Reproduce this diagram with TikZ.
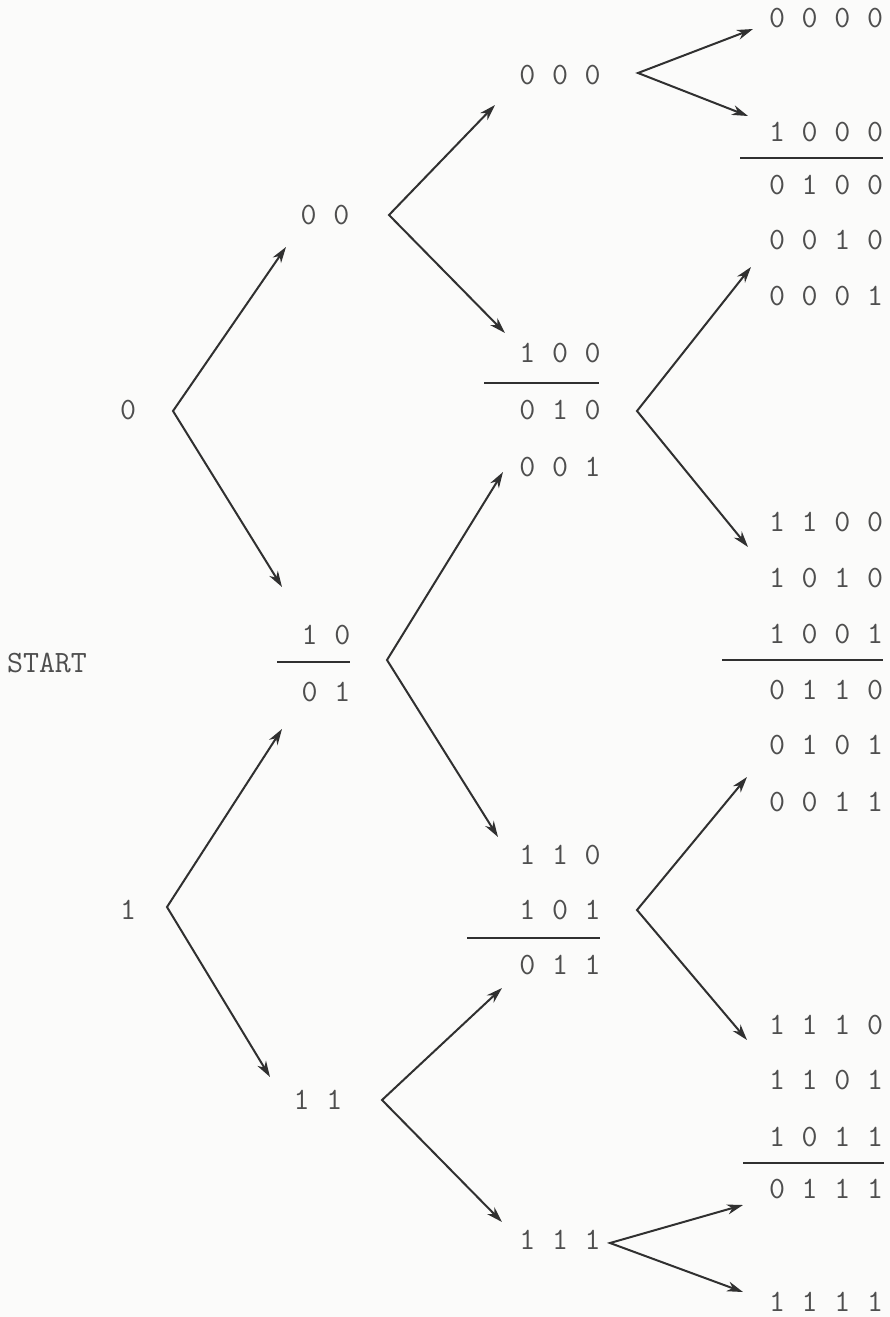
\documentclass[tikz,border=0pt]{standalone}
\usepackage{fontspec}
\usetikzlibrary{arrows.meta}
\definecolor{ink}{RGB}{48,48,48}
\definecolor{txt}{RGB}{78,78,78}
\definecolor{paper}{RGB}{251,251,250}
\newcommand\bitfont{\fontsize{31}{31}\selectfont\ttfamily\spaceskip 16.7pt\relax}
\begin{document}
\begin{tikzpicture}[x=1pt,y=-1pt,
  lbl/.style={inner sep=0pt, text=txt, font=\bitfont},
  fork/.style={draw=ink, line width=2pt, line join=miter,
    {Stealth[length=16pt,width=10pt,inset=5pt]}-{Stealth[length=16pt,width=10pt,inset=5pt]}},
  rulebar/.style={draw=ink, line width=2.2pt}]
\fill[paper] (0,0) rectangle (890,1317);
\useasboundingbox (0,0) rectangle (890,1317);

% column 1
\node[lbl] (n0) at (128,410) {0};
\node[lbl] (start) at (47,663) {START};
\node[lbl] (n1) at (128,910) {1};

% column 2
\node[lbl] (n00) at (325,215) {0 0};
\node[lbl] (n10) at (326,635) {1 0};
\node[lbl] (n01) at (326,692) {0 1};
\node[lbl] (n11) at (318,1100) {1 1};
\draw[rulebar] (277,662) -- (350,662);

% column 3
\node[lbl] (n000) at (560,75) {0 0 0};
\node[lbl] (n100) at (560,353) {1 0 0};
\node[lbl] (n010) at (560,410) {0 1 0};
\node[lbl] (n001) at (560,467) {0 0 1};
\node[lbl] (n110) at (560,855) {1 1 0};
\node[lbl] (n101) at (560,910) {1 0 1};
\node[lbl] (n011) at (560,965) {0 1 1};
\node[lbl] (n111) at (560,1240) {1 1 1};
\draw[rulebar] (484,383) -- (599,383);
\draw[rulebar] (467,938) -- (600,938);

% column 4
\node[lbl] (n0000) at (826,18) {0 0 0 0};
\node[lbl] (n1000) at (826,132) {1 0 0 0};
\node[lbl] (n0100) at (826,185) {0 1 0 0};
\node[lbl] (n0010) at (826,240) {0 0 1 0};
\node[lbl] (n0001) at (826,296) {0 0 0 1};
\node[lbl] (n1100) at (826,522) {1 1 0 0};
\node[lbl] (n1010) at (826,578) {1 0 1 0};
\node[lbl] (n1001) at (826,634) {1 0 0 1};
\node[lbl] (n0110) at (826,690) {0 1 1 0};
\node[lbl] (n0101) at (826,745) {0 1 0 1};
\node[lbl] (n0011) at (826,802) {0 0 1 1};
\node[lbl] (n1110) at (826,1025) {1 1 1 0};
\node[lbl] (n1101) at (826,1080) {1 1 0 1};
\node[lbl] (n1011) at (826,1137) {1 0 1 1};
\node[lbl] (n0111) at (826,1189) {0 1 1 1};
\node[lbl] (n1111) at (826,1302) {1 1 1 1};
\draw[rulebar] (740,158) -- (883,158);
\draw[rulebar] (722,660) -- (883,660);
\draw[rulebar] (743,1163) -- (884,1163);

% fork vertices and tips
\coordinate (v0) at (173,411);   \coordinate (t0a) at (286,247);  \coordinate (t0b) at (282,587);
\coordinate (v1) at (167,907);   \coordinate (t1a) at (282,729);  \coordinate (t1b) at (270,1077);
\coordinate (v00) at (389,215);  \coordinate (t00a) at (495,105); \coordinate (t00b) at (505,333);
\coordinate (v10) at (387,660);  \coordinate (t10a) at (503,472); \coordinate (t10b) at (498,837);
\coordinate (v11) at (382,1100); \coordinate (t11a) at (502,988); \coordinate (t11b) at (502,1222);
\coordinate (v000) at (638,73);  \coordinate (t000a) at (753,29); \coordinate (t000b) at (748,116);
\coordinate (v100) at (637,411); \coordinate (t100a) at (751,267); \coordinate (t100b) at (748,547);
\coordinate (v110) at (637,910); \coordinate (t110a) at (747,777); \coordinate (t110b) at (747,1040);
\coordinate (v111) at (610,1243); \coordinate (t111a) at (743,1205); \coordinate (t111b) at (743,1292);

\draw[fork] (t0a) -- (v0) -- (t0b);
\draw[fork] (t1a) -- (v1) -- (t1b);
\draw[fork] (t00a) -- (v00) -- (t00b);
\draw[fork] (t10a) -- (v10) -- (t10b);
\draw[fork] (t11a) -- (v11) -- (t11b);
\draw[fork] (t000a) -- (v000) -- (t000b);
\draw[fork] (t100a) -- (v100) -- (t100b);
\draw[fork] (t110a) -- (v110) -- (t110b);
\draw[fork] (t111a) -- (v111) -- (t111b);
\end{tikzpicture}
\end{document}
